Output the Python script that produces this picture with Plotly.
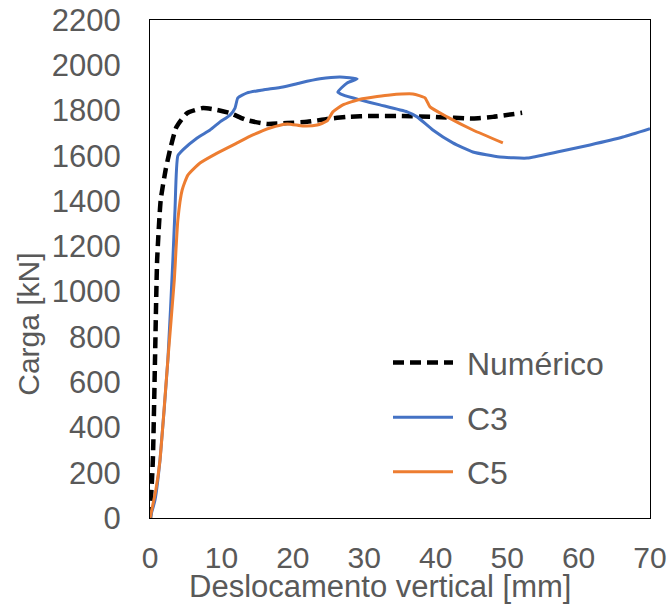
import plotly.graph_objects as go

# Load-displacement curves (displacement in mm, load in kN)
num_x = [0, 0.4, 0.7, 1.0, 1.5, 2.2, 2.8, 3.7, 5.2, 7.4, 9.4, 11.2, 13.5, 16.4, 19.2,
         22.0, 24.8, 27.6, 31.2, 35.0, 40.0, 45.2, 48.0, 52.1]
num_y = [0, 256, 698, 1140, 1405, 1540, 1626, 1727, 1789, 1811, 1803, 1789, 1758, 1741, 1745,
         1750, 1763, 1772, 1776, 1776, 1772, 1765, 1772, 1790]

c3_x = [0, 0.7, 1.4, 2.5, 3.2, 3.5, 3.9, 4.6, 6.6, 8.4, 9.8, 11.2, 11.9, 12.3, 13.6, 15.8,
        18.6, 21.0, 23.8, 26.6, 29.0, 27.6, 26.3, 27.0, 29.4, 32.2, 36.0, 37.4, 39.6, 42.4,
        45.2, 49.0, 52.8, 57.0, 61.6, 66.2, 70.0]
c3_y = [0, 80, 256, 698, 1140, 1361, 1600, 1626, 1679, 1714, 1750, 1780, 1811, 1856, 1878, 1891,
        1904, 1922, 1940, 1948, 1940, 1922, 1882, 1869, 1847, 1825, 1794, 1772, 1714, 1657,
        1617, 1595, 1590, 1617, 1648, 1683, 1720]

c5_x = [0, 0.8, 1.4, 2.5, 3.4, 3.9, 4.5, 5.3, 7.0, 9.4, 12.2, 14.4, 16.8, 19.2, 21.4, 23.4,
        24.8, 25.6, 27.0, 29.4, 31.8, 33.6, 36.8, 38.5, 39.2, 41.6, 45.2, 49.4]
c5_y = [0, 120, 256, 698, 1051, 1317, 1449, 1515, 1568, 1612, 1657, 1692, 1723, 1741, 1732, 1736,
        1754, 1794, 1825, 1850, 1862, 1869, 1873, 1856, 1816, 1772, 1714, 1657]

x_ticks = [0, 10, 20, 30, 40, 50, 60, 70]
y_ticks = list(range(0, 2201, 200))

x_title = "Deslocamento vertical [mm]"
y_title = "Carga [kN]"

FONT = "Liberation Sans, Arial, sans-serif"
GRAY = "#595959"
NB = "\u00a0"  # small gap between legend sample and label

fig = go.Figure()
fig.add_trace(go.Scatter(x=num_x, y=num_y, mode="lines", name=NB + "Numérico", legendgroup="a",
                         line=dict(color="black", width=4.5, dash="11px,6px", shape="spline",
                                   smoothing=0.5)))
fig.add_trace(go.Scatter(x=c3_x, y=c3_y, mode="lines", name=NB + "C3", legendgroup="b",
                         line=dict(color="#4472C4", width=3, shape="spline", smoothing=0.5)))
fig.add_trace(go.Scatter(x=c5_x, y=c5_y, mode="lines", name=NB + "C5", legendgroup="c",
                         line=dict(color="#ED7D31", width=3, shape="spline", smoothing=0.5)))

fig.update_layout(
    width=672, height=604,
    margin=dict(l=150, r=22, t=20, b=86),
    plot_bgcolor="white", paper_bgcolor="white",
    font=dict(family=FONT, color=GRAY, size=31),
    legend=dict(x=0.476, y=0.367, xanchor="left", yanchor="top",
                bgcolor="rgba(0,0,0,0)", font=dict(size=32, color=GRAY),
                itemwidth=60, tracegroupgap=10, traceorder="grouped"),
    annotations=[
        dict(text=x_title, xref="paper", yref="paper", x=0.46, y=-0.137,
             xanchor="center", yanchor="middle", showarrow=False,
             font=dict(size=31, color=GRAY)),
        dict(text=y_title, xref="paper", yref="paper", x=-0.242, y=0.388,
             xanchor="center", yanchor="middle", showarrow=False, textangle=-90,
             font=dict(size=30, color=GRAY)),
    ],
)
fig.update_xaxes(range=[0, 70], tickvals=x_ticks, showgrid=False, zeroline=False,
                 showline=True, linecolor="black", linewidth=1, mirror=True, automargin=False,
                 ticks="", tickfont=dict(size=30, color=GRAY), ticklabelstandoff=13)
fig.update_yaxes(range=[0, 2200], tickvals=y_ticks, showgrid=False, zeroline=False,
                 showline=True, linecolor="black", linewidth=1, mirror=True, automargin=False,
                 ticks="", tickfont=dict(size=31, color=GRAY), ticklabelstandoff=22)

fig.write_html("out.html")
